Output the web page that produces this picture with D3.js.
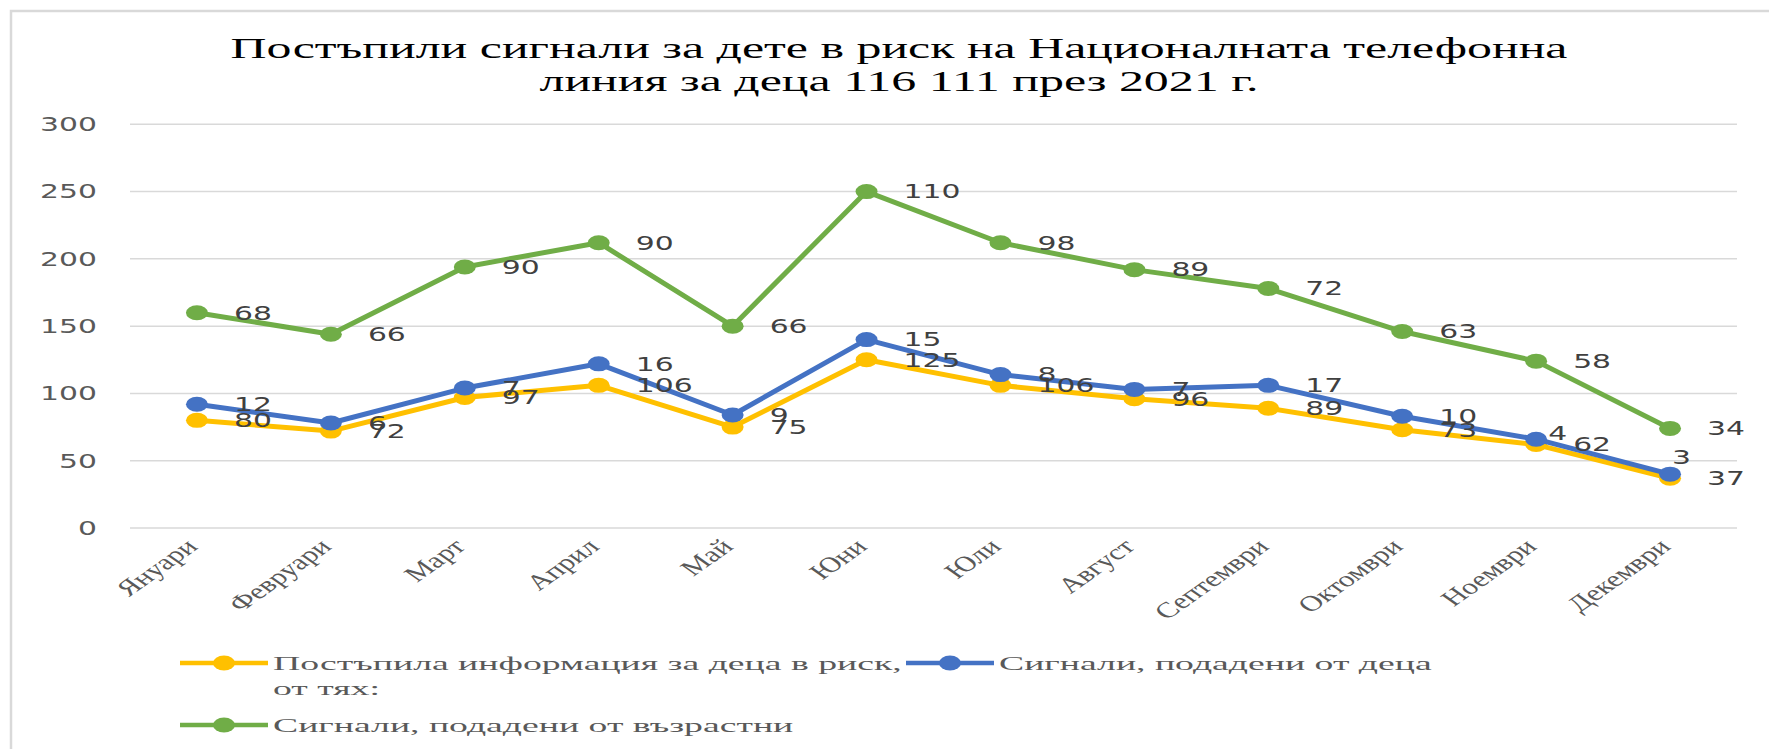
<!DOCTYPE html>
<html>
<head>
<meta charset="utf-8">
<script src="https://cdnjs.cloudflare.com/ajax/libs/d3/7.8.5/d3.min.js"></script>
<style>
  body { margin: 0; background: #fff; }
  svg { display: block; }
</style>
</head>
<body>
<svg id="chart"></svg>
<script>
// months on the x axis
const months = ["Януари", "Февруари", "Март", "Април", "Май", "Юни",
                "Юли", "Август", "Септември", "Октомври", "Ноември", "Декември"];

// series values (the chart is a stacked line chart, labels show own values)
const infoKids   = [80, 72, 97, 106, 75, 125, 106, 96, 89, 73, 62, 37];
const fromKids   = [12, 6, 7, 16, 9, 15, 8, 7, 17, 10, 4, 3];
const fromAdults = [68, 66, 90, 90, 66, 110, 98, 89, 72, 63, 58, 34];

const seriesNames = [
  ["Постъпила информация за деца в риск,", "от тях:"],
  ["Сигнали, подадени от деца"],
  ["Сигнали, подадени от възрастни"]
];
const yTicks = [0, 50, 100, 150, 200, 250, 300];
const titleLines = ["Постъпили сигнали за дете в риск на Националната телефонна",
                    "линия за деца 116 111 през 2021 г."];

const W = 1769, H = 749;
const colors = ["#FFC000", "#4472C4", "#70AD47"];
const SX = 1.57; // the source picture is stretched sideways

const svg = d3.select("#chart").attr("width", W).attr("height", H);

// outer frame
svg.append("rect")
  .attr("x", 11).attr("y", 11)
  .attr("width", W).attr("height", H)
  .attr("fill", "#fff")
  .attr("stroke", "#d9d9d9")
  .attr("stroke-width", 2.5);

// title
svg.selectAll(".title")
  .data(titleLines)
  .join("text")
  .attr("class", "title")
  .attr("x", 899)
  .attr("y", (d, i) => 58 + i * 33)
  .attr("text-anchor", "middle")
  .attr("textLength", (d, i) => i === 0 ? 1337 : 719)
  .attr("lengthAdjust", "spacingAndGlyphs")
  .style("font-family", "'Liberation Serif', serif")
  .style("font-size", "29px")
  .style("fill", "#000")
  .text(d => d);

// scales
const x = d3.scalePoint()
  .domain(months)
  .range([130, 1737])
  .padding(0.5);

const y = d3.scaleLinear()
  .domain([0, 300])
  .range([528, 124.3]);

// gridlines
svg.append("g")
  .selectAll("line")
  .data(yTicks)
  .join("line")
  .attr("x1", 130).attr("x2", 1737)
  .attr("y1", d => y(d)).attr("y2", d => y(d))
  .attr("stroke", "#d9d9d9")
  .attr("stroke-width", 1.5);

// y tick labels
svg.append("g")
  .selectAll("text")
  .data(yTicks)
  .join("text")
  .attr("transform", d => `translate(97,${y(d)}) scale(${SX},1)`)
  .attr("dy", "0.36em")
  .attr("text-anchor", "end")
  .style("font-family", "'DejaVu Sans', sans-serif")
  .style("font-size", "19px")
  .style("fill", "#595959")
  .text(d => d);

// x tick labels, rotated and stretched
svg.append("g")
  .selectAll("text")
  .data(months)
  .join("text")
  .attr("transform", d => `translate(${x(d) + 2},${548}) scale(1.42,1) rotate(-45)`)
  .attr("text-anchor", "end")
  .style("font-family", "'Liberation Serif', serif")
  .style("font-size", "22px")
  .style("fill", "#595959")
  .text(d => d);

// stack the series
const rawSeries = [infoKids, fromKids, fromAdults];
const stacked = [];
rawSeries.forEach((vals, s) => {
  stacked.push(vals.map((v, i) => ({
    month: months[i],
    value: v,
    top: d3.sum(rawSeries.slice(0, s + 1), arr => arr[i]),
    series: s,
    idx: i
  })));
});

const line = d3.line()
  .x(d => x(d.month))
  .y(d => y(d.top));

const marks = svg.append("g");
stacked.forEach((pts, s) => {
  const g = marks.append("g");
  g.append("path")
    .datum(pts)
    .attr("d", line)
    .attr("fill", "none")
    .attr("stroke", colors[s])
    .attr("stroke-width", 5)
    .attr("stroke-linejoin", "round");
  g.selectAll("ellipse")
    .data(pts)
    .join("ellipse")
    .attr("cx", d => x(d.month))
    .attr("cy", d => y(d.top))
    .attr("rx", 11)
    .attr("ry", 7.5)
    .attr("fill", colors[s]);
});

// a couple of labels were nudged by hand in the original
const nudge = { "1-10": [12, -6], "1-11": [2, -17] };

const labels = svg.append("g");
stacked.forEach(pts => {
  labels.selectAll(null)
    .data(pts)
    .join("text")
    .attr("transform", d => {
      const n = nudge[d.series + "-" + d.idx] || [37, 0];
      return `translate(${x(d.month) + n[0]},${y(d.top) + n[1]}) scale(${SX},1)`;
    })
    .attr("dy", "0.36em")
    .style("font-family", "'DejaVu Sans', sans-serif")
    .style("font-size", "19px")
    .style("fill", "#404040")
    .text(d => d.value);
});

// legend
const legendItems = [
  { s: 0, x: 180, y: 663 },
  { s: 1, x: 906, y: 663 },
  { s: 2, x: 180, y: 725 }
];
const legend = svg.append("g");
const legendTexts = [];
legendItems.forEach(it => {
  const g = legend.append("g").attr("transform", `translate(${it.x},${it.y})`);
  g.append("line")
    .attr("x1", 0).attr("x2", 88)
    .attr("stroke", colors[it.s])
    .attr("stroke-width", 4.5);
  g.append("ellipse")
    .attr("cx", 44).attr("rx", 11).attr("ry", 7.5)
    .attr("fill", colors[it.s]);
  seriesNames[it.s].forEach((name, i) => {
    const t = g.append("text")
      .attr("data-y", 7 + i * 25)
      .style("font-family", "'Liberation Serif', serif")
      .style("font-size", "19px")
      .style("fill", "#595959")
      .text(name);
    legendTexts.push(t);
  });
});
// stretch legend text the same way as in the source (first line is ~629px wide)
const natural = legendTexts[0].node().getComputedTextLength();
const legSX = 629 / natural;
legendTexts.forEach(t => {
  t.attr("transform", `translate(93,${t.attr("data-y")}) scale(${legSX},1)`);
});
</script>
</body>
</html>
